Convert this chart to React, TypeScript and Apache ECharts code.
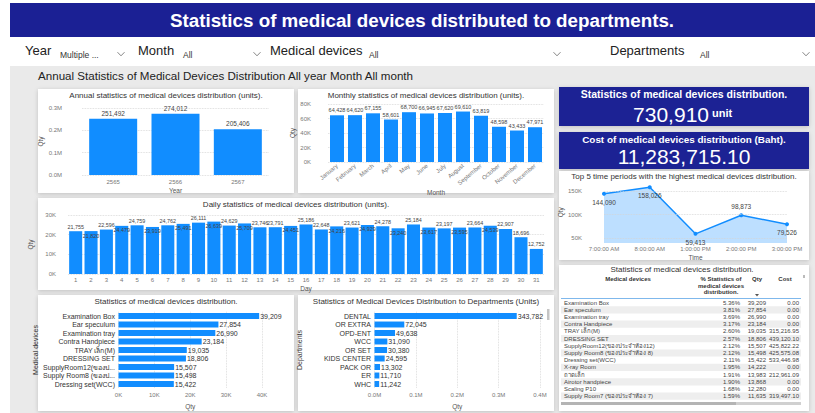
import React, { useEffect, useRef } from 'react';
import * as echarts from 'echarts';

const FONT = "'Segoe UI', 'Liberation Sans', 'Noto Sans', sans-serif";
const BLUE = '#118DFF';
const NAVY = '#1B2094';

const years = ['2565', '2566', '2567'];
const yearQty = [251492, 274012, 205406];

const months = ['January', 'February', 'March', 'April', 'May', 'June', 'July', 'August', 'September', 'October', 'November', 'December'];
const monthQty = [64428, 64620, 67155, 58601, 68700, 66945, 67620, 69610, 63819, 48598, 43433, 47971];

const days = ['1', '2', '3', '4', '5', '6', '7', '8', '9', '10', '11', '12', '13', '14', '15', '16', '17', '18', '19', '20', '21', '22', '23', '24', '25', '26', '27', '28', '29', '30', '31'];
const dayQty = [21755, 21820, 22596, 24479, 24759, 23919, 24762, 25491, 26111, 26639, 24629, 25709, 23746, 23791, 24451, 25186, 22648, 24216, 23621, 24929, 24278, 23240, 25184, 23617, 23197, 23595, 23664, 24539, 22907, 18696, 12752];
const dayLabelsInside = ['2', '4', '6', '8', '10', '12', '15', '18', '20', '22', '24', '26', '28'];

const timeSlots = ['7:00:00 AM', '8:00:00 AM', '1:00:00 PM', '2:00:00 PM', '3:00:00 PM'];
const timeQty = [144090, 158026, 59413, 98873, 79526];
const timeLabelSide = ['bottom', 'bottom', 'bottom', 'top', 'bottom'];

const devices = ['Examination Box', 'Ear speculum', 'Examination tray', 'Contra Handpiece', 'TRAY เล็ก(M)', 'DRESSING SET', 'SupplyRoom12(ของประจำห้อง12)', 'Supply Room8 (ของประจำห้อง 8)', 'Dressing set(WCC)'];
const deviceQty = [39209, 27854, 26990, 23184, 19035, 18806, 15507, 15498, 15422];

const departments = ['DENTAL', 'OR EXTRA', 'OPD-ENT', 'WCC', 'OR SET', 'KIDS CENTER', 'PACK OR', 'ER', 'WHC'];
const departmentQty = [343782, 72045, 49638, 31090, 30380, 24595, 13302, 11710, 11242];

const totalCost = '11,283,715.10';

const tableNames = ['Examination Box', 'Ear speculum', 'Examination tray', 'Contra Handpiece', 'TRAY เล็ก(M)', 'DRESSING SET', 'SupplyRoom12(ของประจำห้อง12)', 'Supply Room8 (ของประจำห้อง 8)', 'Dressing set(WCC)', 'X-ray Room', 'ถาดเล็ก', 'Airotor handpiece', 'Scaling P10', 'Supply Room7 (ของประจำห้อง 7)'];
const tablePct = ['5.36%', '3.81%', '3.69%', '3.17%', '2.60%', '2.57%', '2.12%', '2.12%', '2.11%', '1.95%', '1.91%', '1.90%', '1.68%', '1.59%'];
const tableQty = [39209, 27854, 26990, 23184, 19035, 18806, 15507, 15498, 15422, 14222, 13983, 13868, 12280, 11635];
const tableCost = ['0.00', '0.00', '0.00', '0.00', '315,216.95', '439,120.10', '425,822.22', '425,575.08', '533,446.98', '0.00', '212,961.09', '0.00', '0.00', '319,497.10'];

const fmt = (n: number) => n.toLocaleString('en-US');

function T(x: number, y: number, text: string, o: any = {}) {
  return {
    type: 'text', x, y, z: 10, silent: true,
    style: {
      text, fill: o.fill || '#333', fontSize: o.size || 7, fontWeight: o.weight || 'normal',
      fontFamily: FONT, textAlign: o.align || 'left', textVerticalAlign: o.va || 'middle',
      lineHeight: o.lh,
    },
  };
}
function R(x: number, y: number, w: number, h: number, fill: string, extra: any = {}, z = -1) {
  return { type: 'rect', z, silent: true, shape: { x, y, width: w, height: h }, style: { fill, ...extra } };
}
function chevron(x: number, y: number) {
  return { type: 'polyline', z: 10, silent: true, shape: { points: [[x - 3.5, y - 1.8], [x, y + 1.8], [x + 3.5, y - 1.8]] }, style: { stroke: '#666', lineWidth: 0.8, fill: 'none' } };
}

const axLabel = { color: '#777', fontSize: 6, fontFamily: FONT };
const nameStyle = { color: '#555', fontSize: 6.5, fontFamily: FONT };
const splitDot = { show: true, lineStyle: { color: '#d4d4d4', type: 'dotted', width: 0.8 } };
const noLine = { show: false };
const TITLE = 8;

function buildOption() {
  const card = { shadowBlur: 4, shadowColor: 'rgba(0,0,0,0.18)', shadowOffsetY: 1 };
  const g: any[] = [];
  // header
  g.push(R(10, 3, 805, 34, NAVY));
  g.push(T(422, 20, 'Statistics of medical devices distributed to departments.', { fill: '#fff', size: 18.8, weight: 'bold', align: 'center' }));
  // filters
  g.push(T(25, 50, 'Year', { size: 13, fill: '#222' }));
  g.push(T(60, 55, 'Multiple ...', { size: 8.5, fill: '#333' }));
  g.push(chevron(121, 54));
  g.push(T(138, 50, 'Month', { size: 13, fill: '#222' }));
  g.push(T(183, 55, 'All', { size: 8.5, fill: '#333' }));
  g.push(chevron(257, 54));
  g.push(T(270, 50, 'Medical devices', { size: 13, fill: '#222' }));
  g.push(T(369, 55, 'All', { size: 8.5, fill: '#333' }));
  g.push(chevron(557, 54));
  g.push(T(610, 50, 'Departments', { size: 13, fill: '#222' }));
  g.push(T(700, 55, 'All', { size: 8.5, fill: '#333' }));
  g.push(chevron(806, 54));
  // gray canvas
  g.push(R(10, 66, 805, 347, '#EAEAEA', {}, -3));
  g.push(T(38, 75, 'Annual Statistics of Medical Devices Distribution All year Month All month', { size: 11.6, fill: '#222' }));
  // cards
  g.push(R(38, 89, 256, 104, '#fff', card, -2));
  g.push(R(298, 89, 256, 104, '#fff', card, -2));
  g.push(R(38, 198, 516, 92, '#fff', card, -2));
  g.push(R(38, 295, 256, 116, '#fff', card, -2));
  g.push(R(298, 295, 256, 116, '#fff', card, -2));
  g.push(R(559, 87, 250, 39, NAVY, card, -2));
  g.push(R(559, 132, 250, 37, NAVY, card, -2));
  g.push(R(559, 171, 250, 89, '#fff', card, -2));
  g.push(R(559, 265, 250, 146, '#fff', card, -2));
  // chart titles
  g.push(T(166, 95, 'Annual statistics of medical devices distribution (units).', { size: TITLE, align: 'center' }));
  g.push(T(426, 95, 'Monthly statistics of medical devices distribution (units).', { size: TITLE, align: 'center' }));
  g.push(T(296, 204, 'Daily statistics of medical devices distribution (units).', { size: TITLE, align: 'center' }));
  g.push(T(166, 301, 'Statistics of medical devices distribution.', { size: TITLE, align: 'center' }));
  g.push(T(426, 301, 'Statistics of Medical Devices Distribution to Departments (Units)', { size: TITLE, align: 'center' }));
  g.push(T(684, 176, 'Top 5 time periods with the highest medical devices distribution.', { size: TITLE, align: 'center' }));
  // KPI cards
  const totalQty = yearQty.reduce((a, b) => a + b, 0);
  g.push(T(684, 94, 'Statistics of medical devices distribution.', { size: 10.5, weight: 'bold', fill: '#fff', align: 'center' }));
  g.push(T(709, 114, fmt(totalQty), { size: 21, fill: '#fff', align: 'right' }));
  g.push(T(712, 113, 'unit', { size: 11, weight: 'bold', fill: '#fff' }));
  g.push(T(684, 139, 'Cost of medical devices distribution (Baht).', { size: 9.9, weight: 'bold', fill: '#fff', align: 'center' }));
  g.push(T(684, 156, totalCost, { size: 21, fill: '#fff', align: 'center' }));
  // scrollbar of departments chart
  g.push(R(547, 309, 2.5, 11, '#c4c4c4', {}, 5));
  // table
  g.push(T(682, 269, 'Statistics of medical devices distribution.', { size: 8, align: 'center' }));
  g.push(T(628, 279, 'Medical devices', { size: 6, weight: 'bold', align: 'center' }));
  g.push(T(721, 276, '% Statistics of\nmedical devices\ndistribution.', { size: 6, weight: 'bold', align: 'center', va: 'top', lh: 6.5 }));
  g.push(T(757, 279, 'Qty', { size: 6, weight: 'bold', align: 'center' }));
  g.push(T(785, 279, 'Cost', { size: 6, weight: 'bold', align: 'center' }));
  g.push({ type: 'polygon', z: 10, silent: true, shape: { points: [[755, 294], [759, 294], [757, 296.5]] }, style: { fill: '#555' } });
  g.push(R(803, 275, 2, 3, '#bbb', {}, 5));
  g.push({ type: 'line', z: 10, silent: true, shape: { x1: 561, y1: 298.5, x2: 801, y2: 298.5 }, style: { stroke: '#7fb8ec', lineWidth: 1 } });
  const rowH = 7.2;
  tableNames.forEach((name, i) => {
    const y = 302.6 + i * rowH;
    if (i % 2 === 1) g.push(R(561, y - rowH / 2, 240, rowH, '#EEEEEE', {}, 1));
    g.push(T(564, y, name, { size: 6, fill: '#444' }));
    g.push(T(740, y, tablePct[i], { size: 6, fill: '#444', align: 'right' }));
    g.push(T(766, y, fmt(tableQty[i]), { size: 6, fill: '#444', align: 'right' }));
    g.push(T(799, y, tableCost[i], { size: 6, fill: '#444', align: 'right' }));
  });
  g.push(R(561, 402, 240, 3, '#d0d0d0', {}, 5));
  g.push(R(561, 402, 175, 3, '#b4b4b4', {}, 6));

  const barLabel = (size: number) => ({ show: true, position: 'top', distance: 2, fontSize: size, color: '#444', fontFamily: FONT, formatter: (p: any) => fmt(p.value) });

  return {
    animation: false,
    textStyle: { fontFamily: FONT },
    graphic: { elements: g },
    grid: [
      { left: 82, width: 187, top: 108, height: 67 },
      { left: 328, width: 216, top: 104, height: 58 },
      { left: 68, width: 476, top: 215, height: 59 },
      { left: 604, width: 183, top: 181.6, height: 61.4 },
      { left: 118.5, width: 143.5, top: 311.75, height: 76.5 },
      { left: 374.5, width: 165.5, top: 311.75, height: 76.5 },
    ],
    xAxis: [
      { gridIndex: 0, type: 'category', data: years, axisLine: noLine, axisTick: noLine, axisLabel: { ...axLabel, margin: 4 }, name: 'Year', nameLocation: 'middle', nameGap: 12, nameTextStyle: nameStyle },
      { gridIndex: 1, type: 'category', data: months, axisLine: noLine, axisTick: noLine, axisLabel: { ...axLabel, margin: 3, rotate: 40, interval: 0 }, name: 'Month', nameLocation: 'middle', nameGap: 26, nameTextStyle: nameStyle },
      { gridIndex: 2, type: 'category', data: days, axisLine: noLine, axisTick: noLine, axisLabel: { ...axLabel, margin: 3, interval: 0 }, name: 'Day', nameLocation: 'middle', nameGap: 11, nameTextStyle: nameStyle },
      { gridIndex: 3, type: 'category', data: timeSlots, boundaryGap: false, axisLine: noLine, axisTick: noLine, axisLabel: { ...axLabel, margin: 3, interval: 0 }, name: 'Time', nameLocation: 'middle', nameGap: 11, nameTextStyle: nameStyle },
      { gridIndex: 4, type: 'value', min: 0, max: 40000, interval: 10000, axisLine: noLine, axisTick: noLine, splitLine: splitDot, axisLabel: { ...axLabel, margin: 4, formatter: (v: number) => v / 1000 + 'K' }, name: 'Qty', nameLocation: 'middle', nameGap: 15, nameTextStyle: nameStyle },
      { gridIndex: 5, type: 'value', min: 0, max: 400000, interval: 100000, axisLine: noLine, axisTick: noLine, splitLine: splitDot, axisLabel: { ...axLabel, margin: 4, formatter: (v: number) => (v / 1e6).toFixed(1) + 'M' }, name: 'Qty', nameLocation: 'middle', nameGap: 15, nameTextStyle: nameStyle },
    ],
    yAxis: [
      { gridIndex: 0, type: 'value', min: 0, max: 300000, interval: 100000, axisLine: noLine, axisTick: noLine, splitLine: splitDot, axisLabel: { ...axLabel, margin: 20, formatter: (v: number) => (v / 1e6).toFixed(1) + 'M' }, name: 'Qty', nameLocation: 'middle', nameGap: 38, nameRotate: 90, nameTextStyle: nameStyle },
      { gridIndex: 1, type: 'value', min: 0, max: 80000, interval: 20000, axisLine: noLine, axisTick: noLine, splitLine: splitDot, axisLabel: { ...axLabel, margin: 17, formatter: (v: number) => v / 1000 + 'K' }, name: 'Qty', nameLocation: 'middle', nameGap: 26, nameRotate: 90, nameTextStyle: nameStyle },
      { gridIndex: 2, type: 'value', min: 0, max: 30000, interval: 10000, axisLine: noLine, axisTick: noLine, splitLine: splitDot, axisLabel: { ...axLabel, margin: 12, formatter: (v: number) => v / 1000 + 'K' }, name: 'Qty', nameLocation: 'middle', nameGap: 26, nameRotate: 90, nameTextStyle: nameStyle },
      { gridIndex: 3, type: 'value', min: 40000, max: 170000, interval: 10000, axisLine: noLine, axisTick: noLine, splitLine: noLine, axisLabel: { ...axLabel, margin: 22, showMinLabel: false, formatter: (v: number) => (v % 50000 === 0 ? v / 1000 + 'K' : '') }, name: 'Qty', nameLocation: 'middle', nameGap: 40, nameRotate: 90, nameTextStyle: nameStyle },
      { gridIndex: 4, type: 'category', inverse: true, data: devices, axisLine: noLine, axisTick: noLine, axisLabel: { color: '#333', fontSize: 7, fontFamily: FONT, margin: 3.5, interval: 0, width: 82, overflow: 'truncate', ellipsis: '...' }, name: 'Medical devices', nameLocation: 'middle', nameGap: 73.5, nameRotate: 90, nameTextStyle: { ...nameStyle, fontSize: 7, color: '#333' } },
      { gridIndex: 5, type: 'category', inverse: true, data: departments, axisLine: noLine, axisTick: noLine, axisLabel: { color: '#333', fontSize: 7, fontFamily: FONT, margin: 3.5, interval: 0 }, name: 'Departments', nameLocation: 'middle', nameGap: 71.5, nameRotate: 90, nameTextStyle: { ...nameStyle, fontSize: 7, color: '#333' } },
    ],
    series: [
      { type: 'bar', xAxisIndex: 0, yAxisIndex: 0, data: yearQty, itemStyle: { color: BLUE }, barCategoryGap: '23%', label: barLabel(6.5) },
      { type: 'bar', xAxisIndex: 1, yAxisIndex: 1, data: monthQty, itemStyle: { color: BLUE }, barCategoryGap: '22%', label: barLabel(5.5) },
      {
        type: 'bar', xAxisIndex: 2, yAxisIndex: 2, itemStyle: { color: BLUE }, barCategoryGap: '15%',
        data: dayQty.map((v, i) => ({ value: v, label: { position: dayLabelsInside.includes(days[i]) ? 'insideTop' : 'top' } })),
        label: { ...barLabel(5.4), distance: 2 },
      },
      {
        type: 'line', xAxisIndex: 3, yAxisIndex: 3, symbol: 'circle', symbolSize: 4, itemStyle: { color: BLUE }, lineStyle: { color: BLUE, width: 1.5 },
        areaStyle: { color: 'rgba(17,141,255,0.4)', origin: 'start' },
        data: timeQty.map((v, i) => ({ value: v, label: { position: timeLabelSide[i] } })),
        label: { show: true, fontSize: 6.5, color: '#444', distance: 3, fontFamily: FONT, formatter: (p: any) => fmt(p.value) },
        markLine: { silent: true, symbol: ['none', 'none'], label: { show: false }, lineStyle: { color: '#d4d4d4', type: 'dotted', width: 0.8 }, data: [{ yAxis: 50000 }, { yAxis: 100000 }, { yAxis: 150000 }] },
      },
      { type: 'bar', xAxisIndex: 4, yAxisIndex: 4, data: deviceQty, itemStyle: { color: BLUE }, barCategoryGap: '30%', label: { show: true, position: 'right', distance: 1, fontSize: 7, color: '#333', fontFamily: FONT, formatter: (p: any) => fmt(p.value) } },
      { type: 'bar', xAxisIndex: 5, yAxisIndex: 5, data: departmentQty, itemStyle: { color: BLUE }, barCategoryGap: '30%', label: { show: true, position: 'right', distance: 1, fontSize: 7, color: '#333', fontFamily: FONT, formatter: (p: any) => fmt(p.value) } },
    ],
  };
}

export default function App() {
  const ref = useRef<HTMLDivElement>(null);
  useEffect(() => {
    if (!ref.current) return;
    const chart = echarts.init(ref.current, undefined, { renderer: 'svg' });
    chart.setOption(buildOption() as any);
    return () => chart.dispose();
  }, []);
  return <div ref={ref} style={{ position: 'absolute', left: 0, top: 0, width: 815, height: 413, background: '#fff' }} />;
}
